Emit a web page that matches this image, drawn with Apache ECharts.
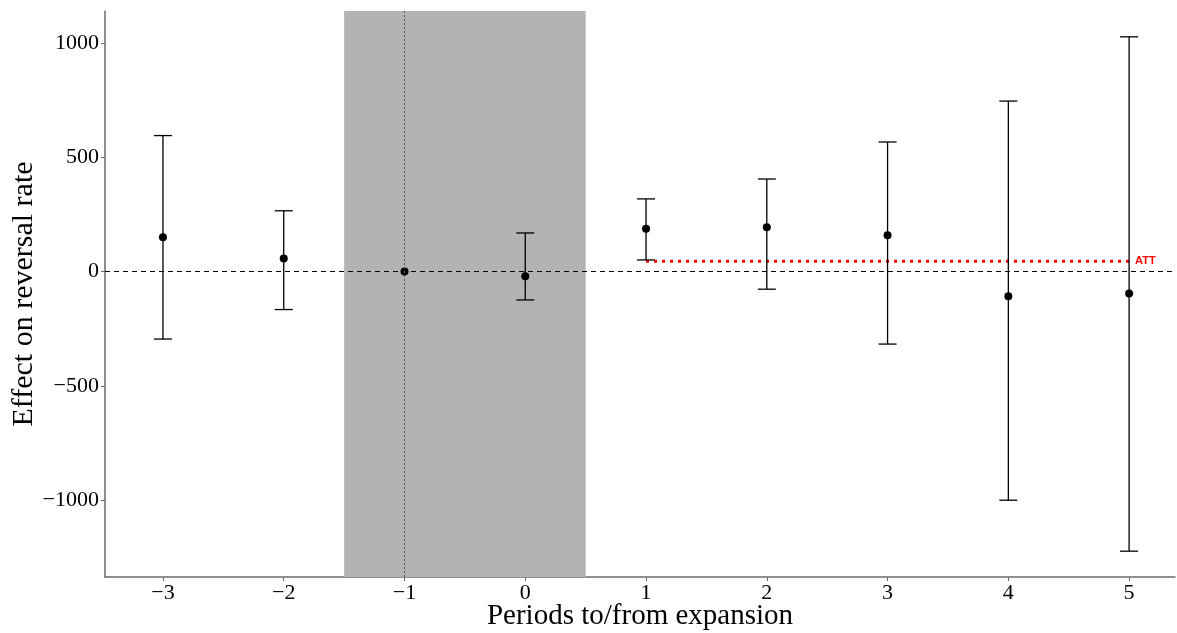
<!DOCTYPE html>
<html>
<head>
<meta charset="utf-8">
<script src="https://cdn.jsdelivr.net/npm/echarts@6/dist/echarts.min.js"></script>
<style>html,body{margin:0;padding:0;background:#fff}#c{width:1177px;height:633px}</style>
</head>
<body>
<div id="c"></div>
<script>
const periods = [-3, -2, -1, 0, 1, 2, 3, 4, 5];
const estimates = [150, 57, 0, -20, 187, 194, 159, -108, -96];
const lowerCI = [-295, -166, null, -124, 51, -77, -317, -1000, -1223];
const upperCI = [595, 266, null, 169, 318, 405, 567, 746, 1027];
const yTicks = [-1000, -500, 0, 500, 1000];
const xTicks = [-3, -2, -1, 0, 1, 2, 3, 4, 5];
const shadeRange = [-1.5, 0.5];
const refPeriod = -1;
const attValue = 45;
const attRange = [1, 5];

const FONT = '"Liberation Serif", "DejaVu Serif", serif';
const fmt = v => String(v).replace('-', '\u2212');

const chart = echarts.init(document.getElementById('c'));
const errData = periods.map((p, i) => [p, lowerCI[i], upperCI[i]]).filter(d => d[1] !== null);

chart.setOption({
  animation: false,
  grid: { left: 105, right: 2, top: 11, bottom: 56, containLabel: false, outerBoundsMode: 'none' },
  xAxis: {
    type: 'value', min: -3.48, max: 5.38,
    name: 'Periods to/from expansion', nameLocation: 'middle', nameGap: 25, nameMoveOverlap: false,
    nameTextStyle: { fontFamily: FONT, fontSize: 29, color: '#000' },
    axisLine: { show: true, onZero: false, lineStyle: { color: '#6b6b6b', width: 1.5 } },
    axisTick: { show: true, length: 4, lineStyle: { color: '#6b6b6b' }, customValues: xTicks },
    axisLabel: { fontFamily: FONT, fontSize: 22, color: '#000', margin: 5, formatter: fmt, customValues: xTicks },
    splitLine: { show: false }
  },
  yAxis: {
    type: 'value', min: -1336, max: 1140,
    name: 'Effect on reversal rate', nameLocation: 'middle', nameGap: 66, nameMoveOverlap: false,
    nameTextStyle: { fontFamily: FONT, fontSize: 30, color: '#000' },
    axisLine: { show: true, onZero: false, lineStyle: { color: '#6b6b6b', width: 1.5 } },
    axisTick: { show: true, length: 4, lineStyle: { color: '#6b6b6b' }, customValues: yTicks },
    axisLabel: { fontFamily: FONT, fontSize: 22, color: '#000', margin: 6, formatter: fmt, customValues: yTicks },
    splitLine: { show: false }
  },
  series: [
    {
      type: 'line', data: [], z: 0, silent: true,
      markArea: {
        silent: true,
        itemStyle: { color: '#b3b3b3' },
        data: [[{ xAxis: shadeRange[0] }, { xAxis: shadeRange[1] }]]
      }
    },
    {
      type: 'line', data: [], z: 1, silent: true,
      markLine: {
        silent: true, symbol: 'none', label: { show: false },
        data: [
          { yAxis: 0, lineStyle: { color: '#000', type: [5, 4], width: 1 } },
          { xAxis: refPeriod, lineStyle: { color: '#555', type: [2, 2], width: 1 } }
        ]
      }
    },
    {
      type: 'line', z: 2, silent: true,
      data: [[attRange[0], attValue], [attRange[1], attValue]],
      symbol: 'none',
      lineStyle: { color: '#ff0000', width: 3, type: [3, 5] },
      endLabel: { show: true, formatter: 'ATT', color: '#ff0000', fontFamily: 'Liberation Sans, sans-serif', fontWeight: 'bold', fontSize: 11, distance: 6 }
    },
    {
      type: 'custom', z: 3, silent: true,
      data: errData,
      renderItem: function (params, api) {
        const x = api.value(0), lo = api.value(1), hi = api.value(2);
        const t = api.coord([x, hi]), b = api.coord([x, lo]);
        const hw = 9;
        const st = { stroke: '#000', lineWidth: 1.3 };
        return {
          type: 'group',
          children: [
            { type: 'line', shape: { x1: t[0], y1: t[1], x2: b[0], y2: b[1] }, style: st },
            { type: 'line', shape: { x1: t[0] - hw, y1: t[1], x2: t[0] + hw, y2: t[1] }, style: st },
            { type: 'line', shape: { x1: b[0] - hw, y1: b[1], x2: b[0] + hw, y2: b[1] }, style: st }
          ]
        };
      }
    },
    {
      type: 'scatter', z: 4, silent: true,
      data: periods.map((p, i) => [p, estimates[i]]),
      symbol: 'circle', symbolSize: 8,
      itemStyle: { color: '#000', opacity: 1 }
    }
  ]
});
</script>
</body>
</html>
